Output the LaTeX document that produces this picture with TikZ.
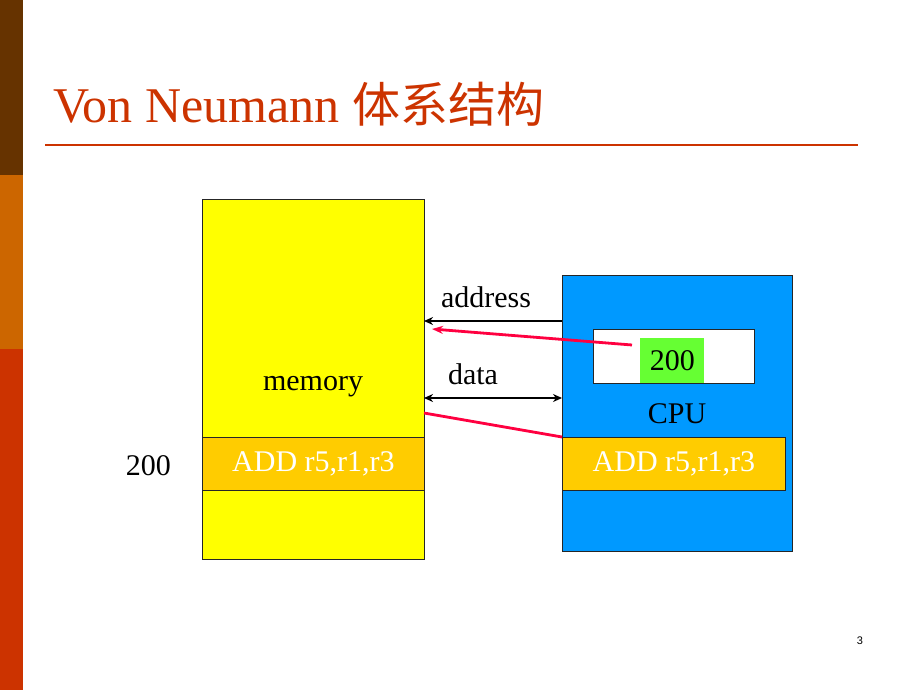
\documentclass[tikz,border=0pt]{standalone}
\usepackage{fontspec}
\setmainfont{Liberation Serif}
\newfontfamily\cjk{Noto Sans CJK SC}
\newfontfamily\pagefont{Liberation Sans}
\usetikzlibrary{positioning}
\usetikzlibrary{arrows.meta}
\definecolor{barbrown}{RGB}{102,51,0}
\definecolor{barorange}{RGB}{204,102,0}
\definecolor{barred}{RGB}{204,51,0}
\definecolor{titlered}{RGB}{204,51,0}
\definecolor{memyellow}{RGB}{255,255,0}
\definecolor{instgold}{RGB}{255,204,0}
\definecolor{cpublue}{RGB}{0,153,255}
\definecolor{pcgreen}{RGB}{102,255,51}
\definecolor{flowred}{RGB}{255,0,64}
\tikzset{basic box/.style={draw=black!85,line width=0.9pt,inner sep=0pt,anchor=north west}}
\tikzset{bus/.style={draw,line width=1.6pt,-{Stealth[length=9pt,width=8pt]}}}
\tikzset{flow/.style={draw=flowred,line width=2.8pt}}
\tikzset{label text/.style={font=\fontsize{30}{34}\selectfont,inner sep=0pt}}

\begin{document}
\begin{tikzpicture}
      [
      x=1pt,y=-1pt,
      inst box/.style={basic box,fill=instgold,text=white,
      minimum height=53pt,font=\fontsize{30}{34}\selectfont},
      ]
      \useasboundingbox (0,0) rectangle (920,690);

      % side bars
      \fill [barbrown]  (0,0)   rectangle (23,175);
      \fill [barorange] (0,175) rectangle (23,349);
      \fill [barred]    (0,349) rectangle (23,690);

      % title
      \node [anchor=base west,inner sep=0pt,text=titlered,
      font=\fontsize{50}{54}\selectfont] (title) at (53,122)
      {Von Neumann {\cjk\fontsize{48}{54}\selectfont 体系结构}};
      \draw [titlered,line width=1.6pt] (45,145) -- (858,145);

      % memory
      \node [basic box,fill=memyellow,minimum width=222pt,minimum height=360pt]
      (memory) at (202,199) {};
      \node [inst box,minimum width=222pt] (memadd) at (202,437) {ADD r5,r1,r3};
      \node [label text] (memlabel) at (313,387) {memory};
      \node [label text,left=31pt of memadd,yshift=-2pt] (addr) {200};

      % cpu
      \node [basic box,fill=cpublue,minimum width=230pt,minimum height=276pt]
      (cpu) at (562,275) {};
      \node [basic box,fill=white,minimum width=161pt,minimum height=54pt]
      (reg) at (593,329) {};
      \node [basic box,draw=none,fill=pcgreen,minimum width=64pt,minimum height=45pt,
      font=\fontsize{30}{34}\selectfont] (pcval) at (640,338) {200};
      \node [label text] (cpulabel) at (677,414) {CPU};
      \node [inst box,minimum width=223pt] (cpuadd) at (562,437) {ADD r5,r1,r3};

      % buses
      \coordinate (addrL) at (424,321);
      \coordinate (addrR) at (562,321);
      \coordinate (dataL) at (424,398);
      \coordinate (dataR) at (562,398);
      \draw [bus] (addrR) -- (addrL);
      \draw [bus,{Stealth[length=9pt,width=8pt]}-{Stealth[length=9pt,width=8pt]}] (dataL) -- (dataR);
      \node [label text] (addrtext) at (486,297) {address};
      \node [label text] (datatext) at (473,374) {data};

      % fetch
      \coordinate (pcout) at (632,345);
      \coordinate (memin) at (432,329);
      \coordinate (memout) at (424,413);
      \draw [flow,-{Stealth[length=11pt,width=8pt]}] (pcout) -- (memin);
      \draw [flow] (memout) -- (cpuadd.north west);

      % page number
      \node [font=\pagefont\fontsize{11}{12}\selectfont,inner sep=0pt] (page) at (860,641) {3};
    \end{tikzpicture}
\end{document}
